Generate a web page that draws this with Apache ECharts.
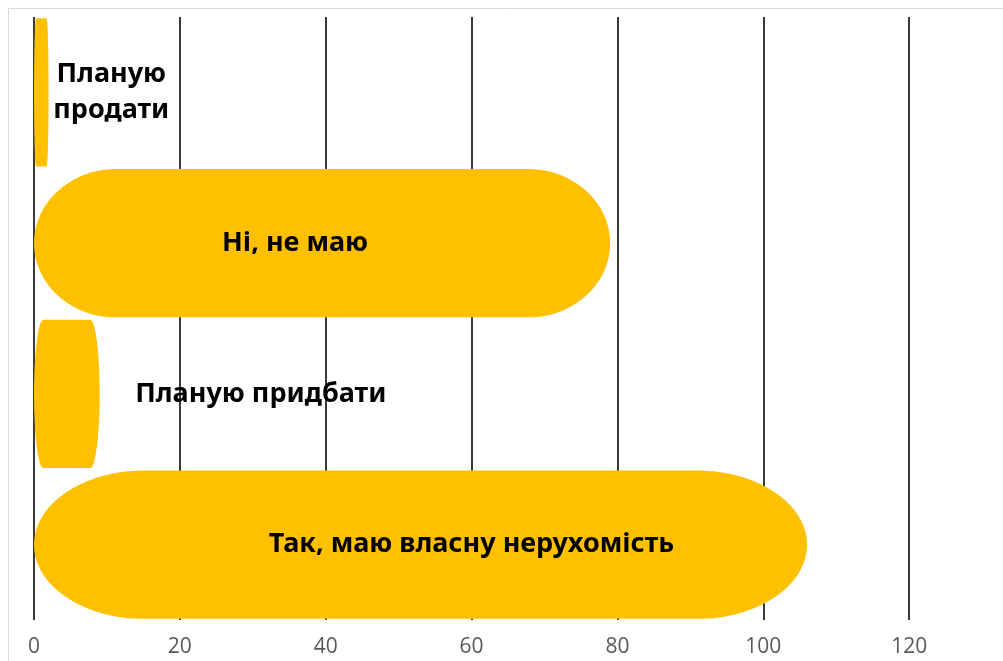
<!DOCTYPE html>
<html>
<head>
<meta charset="utf-8">
<script src="https://cdn.jsdelivr.net/npm/echarts@6/dist/echarts.min.js"></script>
<style>html,body{margin:0;padding:0;background:#fff}#c{width:1003px;height:661px}</style>
</head>
<body>
<div id="c"></div>
<script>
// Data (bottom to top on the category axis)
const categories = ['Так, маю власну нерухомість', 'Планую придбати', 'Ні, не маю', 'Планую\nпродати'];
const values = [106, 9, 79, 2];
const xTicks = [0, 20, 40, 60, 80, 100, 120, 140];

// label placement (pixel shift of label centre from bar centre) - layout only
const labelShift = [51, 194, -27, 70];

const chart = echarts.init(document.getElementById('c'), null, {renderer: 'canvas'});

function renderItem(params, api) {
  const cat = api.value(0);
  const val = api.value(1);
  const p0 = api.coord([0, cat]);
  const p1 = api.coord([val, cat]);
  const bandH = api.size([0, 1])[1];
  const h = bandH * 0.985;
  const x0 = p0[0], x1 = p1[0], yc = p0[1];
  const w = x1 - x0;
  const rx = w * 0.143, ry = h / 2;
  const k = 0.5523;
  const top = yc - ry, bot = yc + ry;
  const d = [
    'M', x0 + rx, top,
    'L', x1 - rx, top,
    'C', x1 - rx + k * rx, top, x1, yc - k * ry, x1, yc,
    'C', x1, yc + k * ry, x1 - rx + k * rx, bot, x1 - rx, bot,
    'L', x0 + rx, bot,
    'C', x0 + rx - k * rx, bot, x0, yc + k * ry, x0, yc,
    'C', x0, yc - k * ry, x0 + rx - k * rx, top, x0 + rx, top,
    'Z'
  ].join(' ');
  return {
    type: 'group',
    children: [
      {
        type: 'path',
        shape: {pathData: d, x: x0, y: top, width: w, height: h, layout: 'cover'},
        style: {fill: '#FFC000', stroke: null}
      },
      {
        type: 'text',
        z2: 10,
        style: {
          text: categories[cat],
          x: (x0 + x1) / 2 + labelShift[cat],
          y: yc,
          align: 'center',
          verticalAlign: 'middle',
          fontSize: 27,
          fontWeight: 'bold',
          fontFamily: 'Noto Sans',
          lineHeight: 36,
          fill: '#000'
        }
      }
    ]
  };
}

chart.setOption({
  animation: false,
  backgroundColor: '#fff',
  graphic: [{
    type: 'rect',
    shape: {x: 8.5, y: 8.5, width: 1200, height: 800},
    style: {fill: null, stroke: '#d9d9d9', lineWidth: 1},
    silent: true,
    z: -10
  }],
  grid: {left: 34, top: 17, bottom: 41, right: -52, containLabel: false, outerBoundsMode: 'none'},
  xAxis: {
    type: 'value',
    min: xTicks[0],
    max: xTicks[xTicks.length - 1],
    interval: 20,
    axisLine: {show: false},
    axisTick: {show: false},
    axisLabel: {fontSize: 21, color: '#595959', margin: 17, fontFamily: 'Open Sans'},
    splitLine: {show: true, lineStyle: {color: '#3a3a3a', width: 2}}
  },
  yAxis: {
    type: 'category',
    data: categories,
    axisLine: {show: false},
    axisTick: {show: false},
    axisLabel: {show: false},
    splitLine: {show: false}
  },
  series: [{
    type: 'custom',
    renderItem: renderItem,
    encode: {x: 1, y: 0},
    data: values.map((v, i) => [i, v]),
    clip: false
  }]
});
</script>
</body>
</html>
